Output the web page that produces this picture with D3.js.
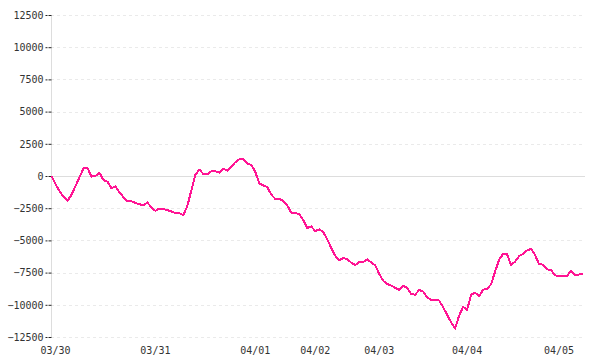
<!DOCTYPE html>
<html>
<head>
<meta charset="utf-8">
<script src="https://cdn.jsdelivr.net/npm/d3@7"></script>
<style>
  body { margin: 0; background: #fff; }
  svg { display: block; }
</style>
</head>
<body>
<svg id="chart"></svg>
<script>
// P&L series, one value per bar
const values = [
  0, -640, -1180, -1615, -1933, -1460, -784, -100, 582, 637,
  -50, 10, 250, -310, -440, -955, -815, -1265, -1640, -1950,
  -1965, -2090, -2190, -2275, -2060, -2445, -2700, -2525, -2570, -2655,
  -2755, -2875, -2890, -3030, -2320, -1110, 95, 500, 155, 140,
  365, 365, 265, 560, 405, 740, 1070, 1295, 1330, 965,
  860, 325, -590, -730, -860, -1450, -1780, -1785, -1925, -2280,
  -2855, -2890, -2945, -3430, -4035, -3915, -4280, -4140, -4350, -4920,
  -5580, -6195, -6545, -6365, -6445, -6725, -6915, -6685, -6690, -6470,
  -6700, -6940, -7585, -8130, -8390, -8500, -8680, -8850, -8510, -8700,
  -9170, -9215, -8850, -8970, -9435, -9620, -9645, -9665, -10185, -10775,
  -11365, -11850, -10840, -10165, -10400, -9215, -9050, -9350, -8830, -8775,
  -8400, -7420, -6505, -6050, -6070, -6900, -6645, -6220, -6040, -5785,
  -5650, -6135, -6830, -6885, -7245, -7300, -7710, -7765, -7765, -7765,
  -7345, -7685, -7650, -7610
]

// bar index where each day starts
const dayTicks = [1, 26, 51, 66, 82, 104, 127]
const dayLabels = ['03/30', '03/31', '04/01', '04/02', '04/03', '04/04', '04/05']

const yTicks = [-12500, -10000, -7500, -5000, -2500, 0, 2500, 5000, 7500, 10000, 12500]

const width = 600
const height = 360
const margin = { top: 15, right: 17, bottom: 23, left: 51 }

const svg = d3.select('#chart')
  .attr('width', width)
  .attr('height', height)

const x = d3.scaleLinear()
  .domain([0, values.length - 1])
  .range([margin.left + 0.5, width - margin.right])

const y = d3.scaleLinear()
  .domain([-12500, 12500])
  .range([height - margin.bottom, margin.top])

// horizontal grid
svg.append('g')
  .selectAll('line')
  .data(yTicks)
  .join('line')
  .attr('x1', margin.left)
  .attr('x2', width - 15)
  .attr('y1', d => Math.round(y(d)) + 0.5)
  .attr('y2', d => Math.round(y(d)) + 0.5)
  .attr('stroke', d => d === 0 ? '#ddd' : '#eaeaea')
  .attr('stroke-dasharray', d => d === 0 ? null : '3,3')

// y axis
const yAxis = svg.append('g')
  .attr('transform', `translate(${margin.left + 0.5},0)`)
  .call(d3.axisLeft(y).tickValues(yTicks).tickSize(6).tickPadding(2).tickFormat(d3.format('d')))

yAxis.select('.domain').attr('stroke', '#ddd').attr('d', `M0,${y(12500)}V${y(-12500)}`)
yAxis.selectAll('.tick line').attr('stroke', '#222').attr('stroke-dasharray', '3,1')
yAxis.selectAll('.tick text')
  .attr('fill', '#333')
  .style('font-family', '"DejaVu Sans Mono", monospace')
  .style('font-size', '10px')
  .text(d => d < 0 ? '\u2212' + Math.abs(d) : d)

// x labels
svg.append('g')
  .selectAll('text')
  .data(dayTicks)
  .join('text')
  .attr('x', d => x(d))
  .attr('y', height - 6)
  .attr('text-anchor', 'middle')
  .attr('fill', '#333')
  .style('font-family', '"DejaVu Sans Mono", monospace')
  .style('font-size', '10px')
  .text((d, i) => dayLabels[i])

// the line
const line = d3.line()
  .x((d, i) => x(i))
  .y(d => y(d))

svg.append('path')
  .datum(values)
  .attr('d', line)
  .attr('fill', 'none')
  .attr('stroke', '#ff1493')
  .attr('stroke-width', 2)
  .attr('stroke-linejoin', 'round')
  .attr('shape-rendering', 'crispEdges')
</script>
</body>
</html>
